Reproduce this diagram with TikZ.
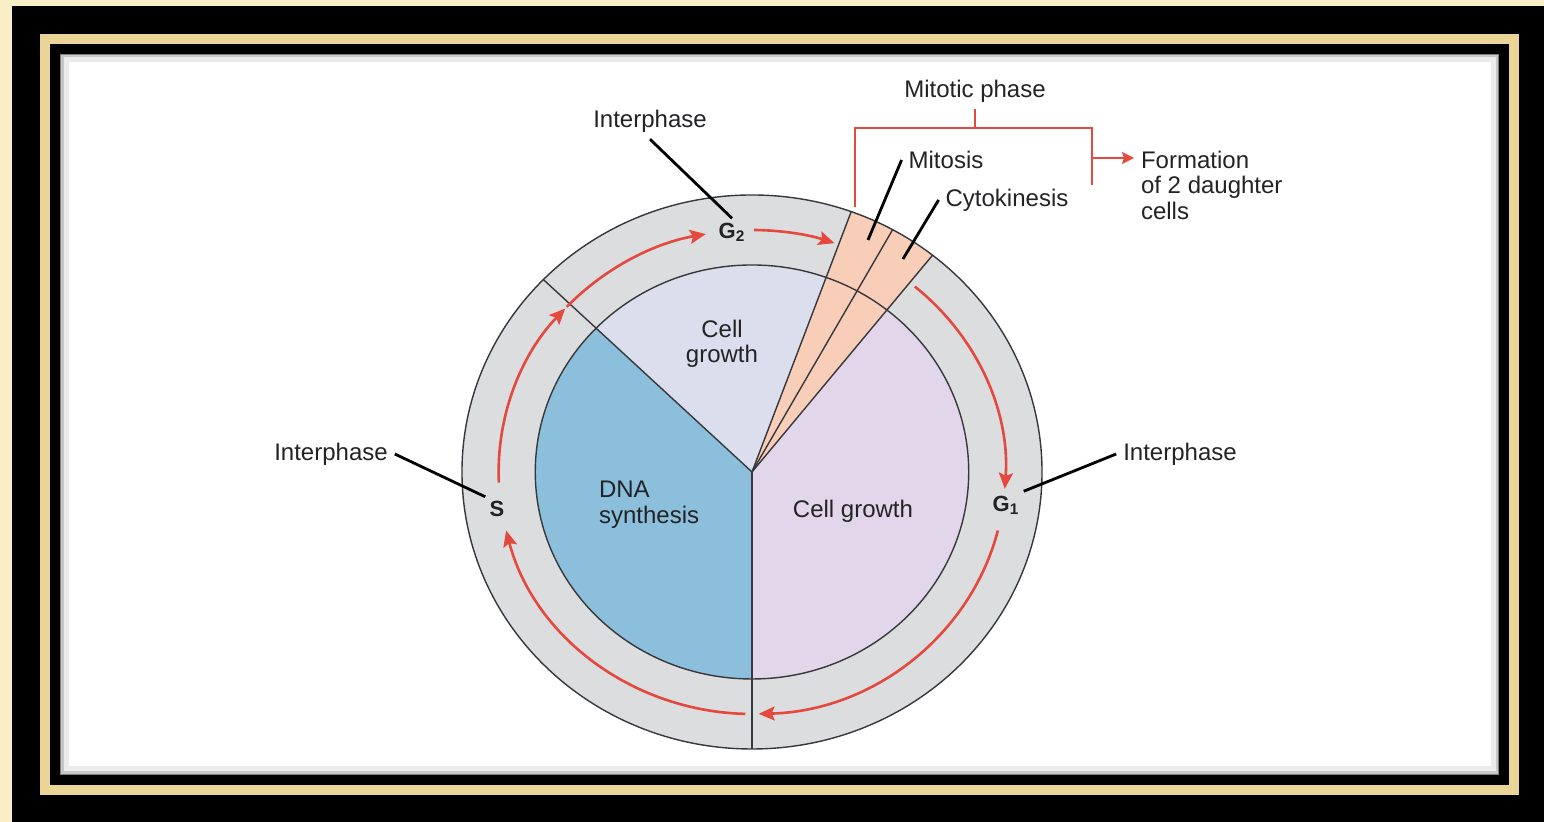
\documentclass[tikz,border=0pt]{standalone}
\usepackage{fontspec}
\setmainfont{Liberation Sans}
\usepackage{xcolor}
\usetikzlibrary{arrows.meta}

\definecolor{cream}{RGB}{250,238,200}
\definecolor{gold}{RGB}{234,212,150}
\definecolor{ringgray}{RGB}{220,221,223}
\definecolor{gtwofill}{RGB}{219,222,236}
\definecolor{dnafill}{RGB}{139,191,220}
\definecolor{gonefill}{RGB}{226,214,234}
\definecolor{mitfill}{RGB}{249,206,184}
\definecolor{cycred}{RGB}{229,72,60}
\definecolor{edgegray}{RGB}{55,55,60}
\definecolor{ink}{RGB}{35,35,38}

\begin{document}
\begin{tikzpicture}[x=0.5pt,y=0.5pt,
  lbl/.style={font=\fontsize{12}{12.75}\selectfont,text=ink},
  phase/.style={font=\fontsize{11}{12}\selectfont\bfseries,text=ink,inner sep=2pt},
  leader/.style={line width=1.4pt,black},
  rim/.style={edgegray,line width=0.7pt},
  cycarrow/.style={cycred,line width=1.3pt,-{Stealth[length=8pt,width=7pt,inset=1.5pt]}},
  bracket/.style={cycred,line width=1pt}]
\useasboundingbox (0,0) rectangle (1544,822);
% frame
\fill[cream] (0,0) rectangle (1544,822);
\fill[black] (12,0) rectangle (1544,816);
\fill[gold] (40,27) rectangle (1519,788);
\fill[black] (50,37) rectangle (1509,778);
\fill[white] (60,47) rectangle (1499,768);
\draw[black!50,line width=1pt] (61,48) rectangle (1498,767);
\draw[black!22,line width=2pt] (63,50) rectangle (1496,765);
\draw[black!8,line width=2.5pt] (66,53) rectangle (1493,762);

% the cycle
\begin{scope}[shift={(752,350)},xscale=1.047]
\fill[ringgray] (0,0) circle (277);
\fill[mitfill] (0,0) -- (51.5:277) arc[start angle=51.5,end angle=70,radius=277] -- cycle;
\fill[gonefill] (0,0) -- (-90:207) arc[start angle=-90,end angle=51.5,radius=207] -- cycle;
\fill[gtwofill] (0,0) -- (70:207) arc[start angle=70,end angle=136,radius=207] -- cycle;
\fill[dnafill] (0,0) -- (136:207) arc[start angle=136,end angle=270,radius=207] -- cycle;
\draw[rim] (0,0) circle (277) (0,0) circle (207);
\foreach \a in {51.5,61,70,136,270}
  \draw[rim] (0,0) -- (\a:277);
\draw[cycarrow] (50:242) arc[start angle=50,end angle=-4,radius=242];
\draw[cycarrow] (-14:242) arc[start angle=-14,end angle=-88.5,radius=242];
\draw[cycarrow] (-91.5:242) arc[start angle=-91.5,end angle=-166,radius=242];
\draw[cycarrow] (182.5:242) arc[start angle=182.5,end angle=137.5,radius=242];
\draw[cycarrow] (137:242) arc[start angle=137,end angle=100.5,radius=242];
\draw[cycarrow] (89.5:242) arc[start angle=89.5,end angle=71,radius=242];
\end{scope}

\node[lbl,align=center] (growthTop) at (722,478) {Cell\\growth};
\node[lbl,align=left,anchor=west] (dnaSyn) at (592,317) {DNA\\synthesis};
\node[lbl] (growthRight) at (853,311) {Cell growth};
\node[phase] (g2) at (732,590) {G\textsubscript{2}};
\node[phase] (s) at (497,313) {S};
\node[phase] (g1) at (1006,317) {G\textsubscript{1}};

\node[lbl] (ipTop) at (650,701) {Interphase};
\node[lbl] (ipLeft) at (331,368) {Interphase};
\node[lbl] (ipRight) at (1180,368) {Interphase};
\node[lbl] (mitotic) at (975,731) {Mitotic phase};
\node[lbl] (mitosis) at (946,662) {Mitosis};
\node[lbl] (cyto) at (1007,622) {Cytokinesis};
\node[lbl,align=left,anchor=west] (formation) at (1134,637) {Formation\\of 2 daughter\\cells};

\coordinate (mitEnd) at (868,582);
\coordinate (cytEnd) at (903,563);
\draw[leader] (ipTop.south) -- (g2.north);
\draw[leader] (ipLeft.east) -- (s.north west);
\draw[leader] (ipRight.west) -- (g1.north east);
\draw[leader] (mitosis.west) -- (mitEnd);
\draw[leader] (cyto.west) -- (cytEnd);

% mitotic bracket
\coordinate (brArrow) at (1092,664);
\draw[bracket] (mitotic.south) -- (975,694)
  (855,615) -- (855,694) -- (1092,694) -- (1092,637);
\draw[bracket,-{Stealth[length=6pt,width=6pt,inset=1pt]}] (brArrow) -- (brArrow -| formation.west);
\end{tikzpicture}
\end{document}
